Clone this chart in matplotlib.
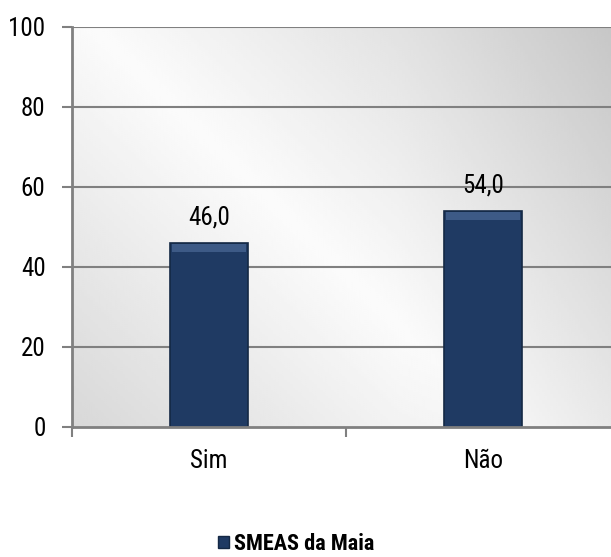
import matplotlib.pyplot as plt
import numpy as np
from matplotlib.patches import Patch
from matplotlib import font_manager

categories = ["Sim", "Não"]
values = [46.0, 54.0]
series_name = "SMEAS da Maia"
yticks = [0, 20, 40, 60, 80, 100]

# a narrow face looks closest to the original's Arial Narrow
names = {f.name for f in font_manager.fontManager.ttflist}
font = "Roboto Condensed" if "Roboto Condensed" in names else "DejaVu Sans"
plt.rcParams["font.family"] = font
plt.rcParams["font.stretch"] = "condensed"

BAR = "#1f3a63"
GRID = "#808080"

fig = plt.figure(figsize=(6.11, 5.57), dpi=100)
# the plot area runs past the right edge of the figure in the original
ax = fig.add_axes([72 / 611, 1 - 427 / 557, 548 / 611, 400 / 557])

# gradient background: near white through the middle, grey at the corners
gx, gy = np.meshgrid(np.linspace(0, 1, 200), np.linspace(0, 1, 200))
d = (gx - 0.45) * 0.8 + (gy - 0.45) * 0.6
shade = 0.985 - 0.22 * np.abs(d) - 0.1 * np.clip(gx - 0.6, 0, 1)
ax.imshow(shade, cmap="gray", vmin=0, vmax=1, extent=[-0.5, 1.5, 0, 100],
          origin="lower", aspect="auto", zorder=0)

x = np.arange(len(categories))
ax.set_xlim(-0.5, 1.5)
ax.set_ylim(0, 100)
for v in yticks[1:]:
    ax.axhline(v, color=GRID, lw=1.5, zorder=1)

bars = ax.bar(x, values, width=0.285, color=BAR, edgecolor="#142844",
              linewidth=1.2, zorder=3)
# soft lighter bevel along the top of each bar
ax.bar(x, [2.0] * len(values), bottom=np.array(values) - 2.3, width=0.27,
       color="#3d5a86", linewidth=0, zorder=4)
for b, v in zip(bars, values):
    ax.text(b.get_x() + b.get_width() / 2, v + 3.5, f"{v:.1f}".replace(".", ","),
            ha="center", va="bottom", fontsize=18, zorder=4)

ax.set_yticks(yticks)
ax.set_yticklabels([str(t) for t in yticks], fontsize=18)
ax.set_xticks([-0.5, 0.5, 1.5], minor=False)
ax.set_xticklabels([])
ax.set_xticks(x, minor=True)
ax.set_xticklabels(categories, minor=True, fontsize=18)
ax.tick_params(axis="x", which="minor", length=0, pad=16)
ax.tick_params(axis="x", which="major", length=7, width=1.5, color=GRID)
ax.tick_params(axis="y", length=7, width=1.5, color=GRID, pad=12)

for s in ["top", "right"]:
    ax.spines[s].set_visible(False)
for s in ["left", "bottom"]:
    ax.spines[s].set_color(GRID)
    ax.spines[s].set_linewidth(2)
    ax.spines[s].set_zorder(5)

fig.legend(handles=[Patch(facecolor=BAR, edgecolor="#142844", label=series_name)],
           loc="center", bbox_to_anchor=(296 / 611, 1 - 544 / 557), frameon=False,
           handlelength=0.5, handleheight=0.5, handletextpad=0.2,
           prop={"family": font, "weight": "bold", "size": 16, "stretch": "condensed"})

fig.savefig("out.png", dpi=100)
